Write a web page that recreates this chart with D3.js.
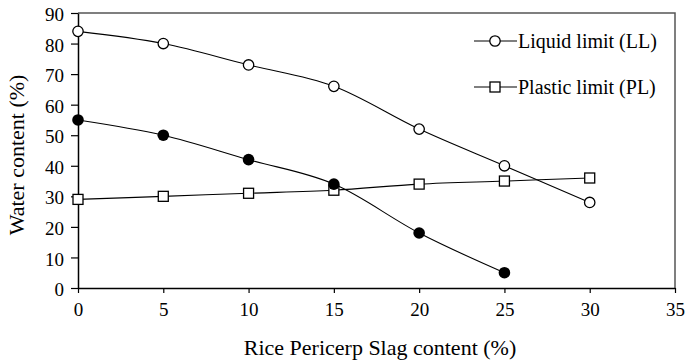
<!DOCTYPE html>
<html>
<head>
<meta charset="utf-8">
<script src="https://cdn.jsdelivr.net/npm/d3@7"></script>
<style>
  html, body { margin: 0; padding: 0; background: #fff; }
  svg text { font-family: "Liberation Serif", "Times New Roman", Times, "DejaVu Serif", serif; }
</style>
</head>
<body>
<svg id="chart" width="686" height="363"></svg>
<script>
// Rice pericarp slag content (%) on the x axis
const slagContent = [0, 5, 10, 15, 20, 25, 30];
// Water content (%) for each series
const liquidLimit = [84, 80, 73, 66, 52, 40, 28];
const plasticLimit = [29, 30, 31, 32, 34, 35, 36];
const plasticityIndexX = [0, 5, 10, 15, 20, 25];
const plasticityIndex = [55, 50, 42, 34, 18, 5];
const xTicks = [0, 5, 10, 15, 20, 25, 30, 35];
const yTicks = [0, 10, 20, 30, 40, 50, 60, 70, 80, 90];

const FONT = "'Liberation Serif', 'Times New Roman', Times, serif";
const svg = d3.select("#chart");
const margin = { left: 78, top: 13, right: 675, bottom: 288 };

const x = d3.scaleLinear().domain([0, 35]).range([margin.left, margin.right]);
const y = d3.scaleLinear().domain([0, 90]).range([margin.bottom, margin.top]);

// frame: top and right edges
svg.append("path")
  .attr("d", `M${margin.left},${margin.top}H${margin.right}V${margin.bottom}`)
  .attr("fill", "none").attr("stroke", "#555").attr("stroke-width", 1.5);

// axes
const xAxis = svg.append("g")
  .attr("transform", `translate(0,${margin.bottom})`)
  .call(d3.axisBottom(x).tickValues(xTicks).tickSize(5).tickSizeOuter(0).tickPadding(10).tickFormat(d3.format("d")));
const yAxis = svg.append("g")
  .attr("transform", `translate(${margin.left},0)`)
  .call(d3.axisLeft(y).tickValues(yTicks).tickSize(7).tickSizeOuter(0).tickPadding(7).tickFormat(d3.format("d")));

[xAxis, yAxis].forEach(g => {
  g.attr("font-family", FONT).attr("font-size", 19);
  g.select(".domain").attr("stroke", "#000").attr("stroke-width", 1.5);
  g.selectAll(".tick line").attr("stroke", "#000").attr("stroke-width", 1.2);
  g.selectAll(".tick text").attr("fill", "#000");
});
yAxis.selectAll(".tick text").attr("dy", "0.4em");

// axis titles
svg.append("text")
  .attr("x", 380)
  .attr("y", 355)
  .attr("text-anchor", "middle")
  .attr("font-family", FONT)
  .attr("font-size", 22)
  .text("Rice Pericerp Slag content (%)");

svg.append("text")
  .attr("transform", "translate(24,155) rotate(-90)")
  .attr("text-anchor", "middle")
  .attr("font-family", FONT)
  .attr("font-size", 22)
  .text("Water content (%)");

const line = d3.line()
  .x(d => x(d[0]))
  .y(d => y(d[1]))
  .curve(d3.curveCatmullRom.alpha(0));

function drawSeries(xs, ys, marker) {
  const pts = xs.map((v, i) => [v, ys[i]]);
  svg.append("path")
    .datum(pts)
    .attr("d", line)
    .attr("fill", "none")
    .attr("stroke", "#000")
    .attr("stroke-width", 1.1);
  const g = svg.append("g");
  pts.forEach(p => marker(g, x(p[0]), y(p[1])));
}

const openCircle = (g, cx, cy) => g.append("circle")
  .attr("cx", cx).attr("cy", cy).attr("r", 5.2)
  .attr("fill", "#fff").attr("stroke", "#000").attr("stroke-width", 1.3);
const openSquare = (g, cx, cy) => g.append("rect")
  .attr("x", cx - 5).attr("y", cy - 5).attr("width", 10).attr("height", 10)
  .attr("fill", "#fff").attr("stroke", "#000").attr("stroke-width", 1.3);
const filledCircle = (g, cx, cy) => g.append("circle")
  .attr("cx", cx).attr("cy", cy).attr("r", 5.8)
  .attr("fill", "#000");

drawSeries(slagContent, plasticLimit, openSquare);
drawSeries(plasticityIndexX, plasticityIndex, filledCircle);
drawSeries(slagContent, liquidLimit, openCircle);

// legend
const legend = [
  { label: "Liquid limit (LL)", marker: openCircle, y: 41 },
  { label: "Plastic limit (PL)", marker: openSquare, y: 87 }
];
legend.forEach(item => {
  svg.append("line")
    .attr("x1", 474).attr("x2", 517)
    .attr("y1", item.y).attr("y2", item.y)
    .attr("stroke", "#000").attr("stroke-width", 1.1);
  item.marker(svg, 495, item.y);
  svg.append("text")
    .attr("x", 518).attr("y", item.y)
    .attr("dy", "0.35em")
    .attr("font-family", FONT)
    .attr("font-size", 20)
    .text(item.label);
});
</script>
</body>
</html>
